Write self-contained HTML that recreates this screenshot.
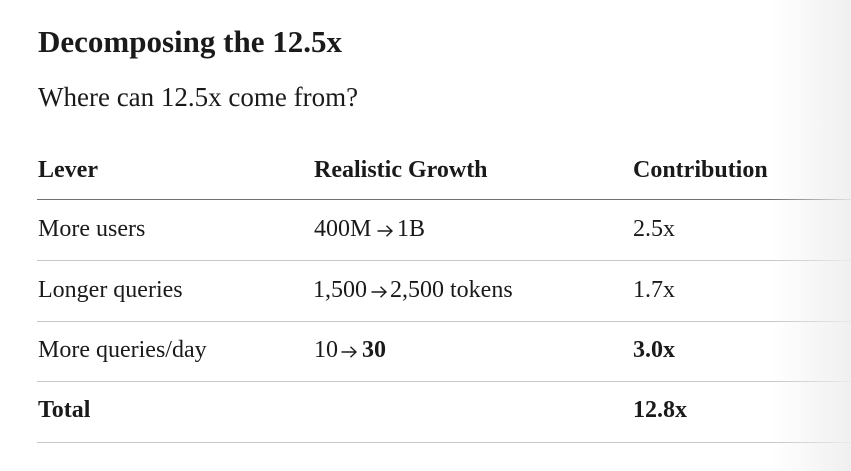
<!DOCTYPE html>
<html><head><meta charset="utf-8"><style>
html,body{margin:0;padding:0;}
body{width:851px;height:471px;position:relative;overflow:hidden;background:#fff;font-family:"Liberation Serif",serif;color:#1a1a1a;}
.t{position:absolute;white-space:nowrap;line-height:1;}
.h1{font-size:31px;font-weight:bold;left:38px;top:26px;}
.sub{font-size:27px;left:38px;top:84px;}
.c{font-size:24px;}
.b{font-weight:bold;}
.line{position:absolute;left:37px;width:814px;height:1px;background:#c6c6c6;}
.arr{position:absolute;width:16px;height:12px;}
.grad{position:absolute;right:0;top:0;width:80px;height:471px;background:linear-gradient(to right,rgba(240,240,240,0),rgba(238,238,238,0.9));}
</style></head><body>
<div class="t h1">Decomposing the 12.5x</div>
<div class="t sub">Where can 12.5x come from?</div>

<div class="t c b" style="left:38px;top:158px">Lever</div>
<div class="t c b" style="left:314px;top:158px">Realistic Growth</div>
<div class="t c b" style="left:633px;top:158px">Contribution</div>
<div class="line" style="top:199px;background:#707070"></div>

<div class="t c" style="left:38px;top:217px">More users</div>
<div class="t c" style="left:314px;top:217px">400M</div>
<svg class="arr" style="left:377px;top:225px" viewBox="0 0 16 12"><path d="M0.5 6H15M9.5 0.8L15 6L9.5 11.2" fill="none" stroke="#1a1a1a" stroke-width="1.4"/></svg>
<div class="t c" style="left:397px;top:217px">1B</div>
<div class="t c" style="left:633px;top:217px">2.5x</div>
<div class="line" style="top:260px"></div>

<div class="t c" style="left:38px;top:278px">Longer queries</div>
<div class="t c" style="left:313px;top:278px">1,500</div>
<svg class="arr" style="left:371px;top:286px" viewBox="0 0 16 12"><path d="M0.5 6H15M9.5 0.8L15 6L9.5 11.2" fill="none" stroke="#1a1a1a" stroke-width="1.4"/></svg>
<div class="t c" style="left:390px;top:278px">2,500 tokens</div>
<div class="t c" style="left:633px;top:278px">1.7x</div>
<div class="line" style="top:321px"></div>

<div class="t c" style="left:38px;top:338px">More queries/day</div>
<div class="t c" style="left:314px;top:338px">10</div>
<svg class="arr" style="left:341px;top:346px" viewBox="0 0 16 12"><path d="M0.5 6H15M9.5 0.8L15 6L9.5 11.2" fill="none" stroke="#1a1a1a" stroke-width="1.4"/></svg>
<div class="t c b" style="left:362px;top:338px">30</div>
<div class="t c b" style="left:633px;top:338px">3.0x</div>
<div class="line" style="top:381px"></div>

<div class="t c b" style="left:38px;top:398px">Total</div>
<div class="t c b" style="left:633px;top:398px">12.8x</div>
<div class="line" style="top:442px"></div>

<div class="grad"></div>
</body></html>
